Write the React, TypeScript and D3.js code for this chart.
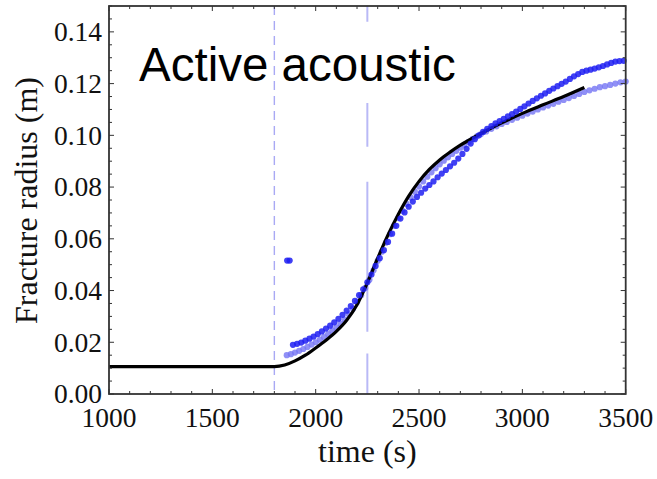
import React from "react";
import * as d3 from "d3";

const W = 657;
const H = 479;

const xMajorTicks = [1000, 1500, 2000, 2500, 3000, 3500];
const yMajorTicks = [0, 0.02, 0.04, 0.06, 0.08, 0.1, 0.12, 0.14];
const xTickLabels = ["1000", "1500", "2000", "2500", "3000", "3500"];
const yTickLabels = ["0.00", "0.02", "0.04", "0.06", "0.08", "0.10", "0.12", "0.14"];
const markerTimes = [1800, 2250];

// Model fit (black line)
const fitT = [1000, 1800, 1850, 1900, 1950, 2000, 2050, 2100, 2150, 2200, 2250, 2300, 2350, 2400, 2450, 2500, 2550, 2600, 2650, 2700, 2750, 2800, 2900, 3000, 3100, 3200, 3300];
const fitR = [0.0106, 0.0106, 0.0112, 0.0128, 0.015, 0.0178, 0.0208, 0.0242, 0.0285, 0.0345, 0.043, 0.0525, 0.0615, 0.0695, 0.0765, 0.0822, 0.0868, 0.0905, 0.0935, 0.0962, 0.0985, 0.1007, 0.1048, 0.1085, 0.1118, 0.115, 0.1185];

// Dark blue measurements
const darkT = [1862, 1874, 1890, 1910, 1930, 1950, 1970, 1990, 2010, 2030, 2050, 2070, 2090, 2110, 2130, 2150, 2170, 2190, 2210, 2230, 2250, 2270, 2290, 2310, 2330, 2350, 2370, 2390, 2410, 2430, 2450, 2470, 2490, 2510, 2530, 2550, 2570, 2590, 2610, 2630, 2650, 2670, 2690, 2710, 2730, 2750, 2770, 2790, 2810, 2830, 2850, 2870, 2890, 2910, 2930, 2950, 2970, 2990, 3010, 3030, 3050, 3070, 3090, 3110, 3130, 3150, 3170, 3190, 3210, 3230, 3250, 3270, 3290, 3310, 3330, 3350, 3370, 3390, 3410, 3430, 3450, 3470, 3490];
const darkR = [0.0516, 0.0516, 0.019, 0.0194, 0.0199, 0.0206, 0.0214, 0.0222, 0.0232, 0.0242, 0.0253, 0.0264, 0.0277, 0.0291, 0.0306, 0.0322, 0.034, 0.036, 0.0382, 0.0405, 0.0432, 0.0462, 0.0495, 0.0525, 0.0556, 0.0588, 0.062, 0.065, 0.0678, 0.0702, 0.0724, 0.0744, 0.0762, 0.0778, 0.0794, 0.0808, 0.0822, 0.0838, 0.0852, 0.0866, 0.088, 0.0894, 0.091, 0.0928, 0.0948, 0.0968, 0.0985, 0.1, 0.1013, 0.1025, 0.1036, 0.1046, 0.1055, 0.1064, 0.1073, 0.1082, 0.1092, 0.1102, 0.1112, 0.1123, 0.1133, 0.1143, 0.1153, 0.1162, 0.1172, 0.1181, 0.119, 0.1199, 0.1208, 0.1218, 0.1228, 0.1237, 0.1245, 0.125, 0.1254, 0.1258, 0.1263, 0.1268, 0.1274, 0.128, 0.1285, 0.1287, 0.1288];

// Light blue measurements
const lightT = [1860, 1880, 1900, 1920, 1940, 1960, 1980, 2000, 2020, 2040, 2060, 2080, 2100, 2120, 2140, 2160, 2180, 2200, 2220, 2240, 2260, 2280, 2300, 2320, 2340, 2360, 2380, 2400, 2420, 2440, 2460, 2480, 2500, 2520, 2540, 2560, 2580, 2600, 2620, 2640, 2660, 2680, 2700, 2720, 2740, 2760, 2780, 2800, 2825, 2850, 2875, 2900, 2925, 2950, 2975, 3000, 3025, 3050, 3075, 3100, 3125, 3150, 3175, 3200, 3225, 3250, 3275, 3300, 3325, 3350, 3375, 3400, 3425, 3450, 3475, 3500];
const lightR = [0.015, 0.0154, 0.016, 0.0167, 0.0174, 0.0182, 0.0191, 0.02, 0.021, 0.022, 0.0232, 0.0245, 0.0258, 0.0272, 0.0288, 0.0308, 0.033, 0.0355, 0.0382, 0.041, 0.0442, 0.0478, 0.0515, 0.055, 0.0585, 0.0618, 0.065, 0.068, 0.0708, 0.0735, 0.076, 0.0782, 0.0802, 0.0822, 0.084, 0.0857, 0.0873, 0.0888, 0.0902, 0.0915, 0.0928, 0.094, 0.0952, 0.0964, 0.0975, 0.0986, 0.0996, 0.1005, 0.1015, 0.1025, 0.1035, 0.1044, 0.1052, 0.106, 0.1068, 0.1076, 0.1084, 0.1092, 0.11, 0.1108, 0.1115, 0.1122, 0.113, 0.1137, 0.1144, 0.1152, 0.116, 0.1168, 0.1174, 0.118, 0.1186, 0.119, 0.1195, 0.12, 0.1205, 0.1208];

export default function App() {
  const left = 109, right = 625.7, top = 6, bottom = 394;
  const x = d3.scaleLinear().domain([1000, 3500]).range([left, right]);
  const y = d3.scaleLinear().domain([0, 0.15]).range([bottom, top]);

  const line = d3
    .line<number>()
    .x((_, i) => x(fitT[i]))
    .y((d) => y(d))
    .curve(d3.curveMonotoneX);

  const xMinor = x.ticks(25);
  const yMinor = y.ticks(30);
  const isMajorX = (v: number) => Math.abs(v / 500 - Math.round(v / 500)) < 1e-6;
  const isMajorY = (v: number) => Math.abs(v / 0.02 - Math.round(v / 0.02)) < 1e-6;

  const serif = "'Liberation Serif', 'Times New Roman', serif";

  return (
    <svg
      width={W}
      height={H}
      style={{ position: "absolute", left: 0, top: 0, background: "#fff" }}
    >
      <rect x={0} y={0} width={W} height={H} fill="#fff" />
      {/* dashed markers */}
      <line
        x1={x(markerTimes[0])}
        x2={x(markerTimes[0])}
        y1={top}
        y2={bottom}
        stroke="#a9a9f4"
        strokeWidth={1.4}
        strokeDasharray="9,6"
      />
      <line
        x1={x(markerTimes[1])}
        x2={x(markerTimes[1])}
        y1={top}
        y2={bottom}
        stroke="#b9b9f6"
        strokeWidth={2}
        strokeDasharray="15.7,81.3,43.7,35,150,21.7,41"
      />
      {/* light blue dots */}
      {lightT.map((t, i) => (
        <circle key={"l" + i} cx={x(t)} cy={y(lightR[i])} r={3.1} fill="#7474f4" fillOpacity={0.8} />
      ))}
      {/* fit line */}
      <path d={line(fitR) || ""} fill="none" stroke="#000" strokeWidth={3.2} />
      {/* dark blue dots */}
      {darkT.map((t, i) => (
        <circle key={"d" + i} cx={x(t)} cy={y(darkR[i])} r={3.1} fill="#1e1ef2" fillOpacity={0.85} />
      ))}

      {/* ticks */}
      {xMinor.map((v, i) => {
        const len = isMajorX(v) ? 5 : 3;
        return (
          <g key={"xt" + i} stroke="#333" strokeWidth={1}>
            <line x1={x(v)} x2={x(v)} y1={bottom} y2={bottom - len} />
            <line x1={x(v)} x2={x(v)} y1={top} y2={top + len} />
          </g>
        );
      })}
      {yMinor.map((v, i) => {
        const len = isMajorY(v) ? 5 : 3;
        return (
          <g key={"yt" + i} stroke="#333" strokeWidth={1}>
            <line x1={left} x2={left + len} y1={y(v)} y2={y(v)} />
            <line x1={right} x2={right - len} y1={y(v)} y2={y(v)} />
          </g>
        );
      })}
      {/* frame */}
      <rect
        x={left}
        y={top}
        width={right - left}
        height={bottom - top}
        fill="none"
        stroke="#333"
        strokeWidth={1.8}
      />

      {/* tick labels */}
      {xMajorTicks.map((v, i) => (
        <text
          key={"xl" + i}
          x={x(v)}
          y={427}
          textAnchor="middle"
          fontFamily={serif}
          fontSize={27.5}
          fill="#111"
        >
          {xTickLabels[i]}
        </text>
      ))}
      {yMajorTicks.map((v, i) => (
        <text
          key={"yl" + i}
          x={102}
          y={y(v) + 9.3}
          textAnchor="end"
          fontFamily={serif}
          fontSize={27.5}
          fill="#111"
        >
          {yTickLabels[i]}
        </text>
      ))}

      {/* axis titles */}
      <text
        x={(left + right) / 2}
        y={462}
        textAnchor="middle"
        fontFamily={serif}
        fontSize={32}
        fill="#111"
      >
        time (s)
      </text>
      <text
        transform={`translate(37,${200.5}) rotate(-90)`}
        textAnchor="middle"
        fontFamily={serif}
        fontSize={32}
        fill="#111"
      >
        Fracture radius (m)
      </text>

      {/* annotation */}
      <text
        x={139}
        y={81}
        fontFamily="'Liberation Sans', Arial, sans-serif"
        fontSize={47.5}
        fill="#000"
      >
        Active acoustic
      </text>
    </svg>
  );
}
